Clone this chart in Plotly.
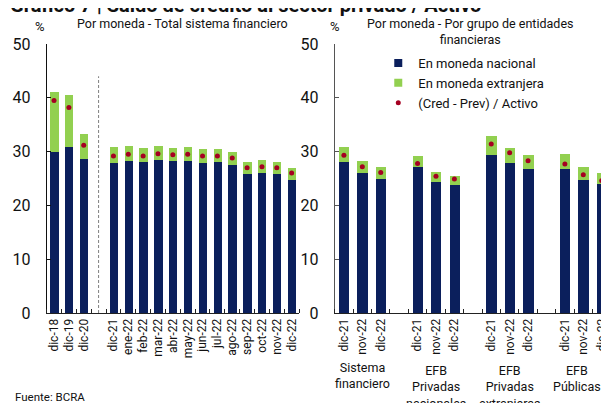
import plotly.graph_objects as go

# ---------------- data ----------------
# Left panel: Total sistema financiero
left_cats_hist = ["dic-18", "dic-19", "dic-20"]
left_cats_month = ["dic-21", "ene-22", "feb-22", "mar-22", "abr-22", "may-22", "jun-22",
                   "jul-22", "ago-22", "sep-22", "oct-22", "nov-22", "dic-22"]
left_nacional = [29.9, 30.9, 28.7, 27.9, 28.2, 28.0, 28.4, 28.2, 28.2, 27.9, 28.0,
                 27.5, 25.9, 26.1, 25.8, 24.8]
left_extranjera = [11.1, 9.7, 4.5, 2.9, 2.8, 2.7, 2.6, 2.5, 2.6, 2.6, 2.4, 2.4,
                   2.2, 2.3, 2.3, 2.2]
left_ratio = [39.5, 38.2, 31.2, 29.2, 29.5, 29.2, 29.6, 29.4, 29.5, 29.2, 29.2,
              28.8, 27.0, 27.2, 27.0, 26.0]

# Right panel: por grupo de entidades
right_groups = ["Sistema<br>financiero", "EFB<br>Privadas<br>nacionales",
                "EFB<br>Privadas<br>extranjeras", "EFB<br>Públicas"]
right_sub = ["dic-21", "nov-22", "dic-22"]
right_nacional = [28.0, 26.0, 25.0, 27.1, 24.3, 23.7, 29.4, 27.9, 26.7, 26.7, 24.8, 23.9]
right_extranjera = [2.9, 2.3, 2.2, 2.0, 1.9, 1.8, 3.5, 2.8, 2.7, 2.9, 2.3, 2.2]
right_ratio = [29.3, 27.2, 26.1, 27.8, 25.4, 24.9, 31.4, 29.8, 28.3, 27.7, 25.7, 24.6]

y_ticks = [0, 10, 20, 30, 40, 50]

# ---------------- styles ----------------
NAVY = "#0b1f5c"
GREEN = "#92d050"
RED = "#a50021"
FONT = "Roboto"
OFF = 8                      # page offset of the figure inside the browser page
PAGE_W, PAGE_H = 609, 403
W, H = PAGE_W - OFF, PAGE_H - OFF
PLOT_TOP, PLOT_BOT = 44, 313  # page pixels


def slot_positions(segments):
    pos, p = [], 0
    for seg in segments:
        for _ in seg:
            pos.append(p)
            p += 1
        p += 1  # empty slot between segments
    return pos


left_labels = left_cats_hist + left_cats_month
left_x = slot_positions([left_cats_hist, left_cats_month])
right_labels = right_sub * len(right_groups)
right_x = slot_positions([right_sub] * len(right_groups))


def px_x(p):
    return (p - OFF) / W


def px_y(p):
    return (PLOT_BOT - p) / (PLOT_BOT - PLOT_TOP)


fig = go.Figure()
BW = 0.56

fig.add_bar(x=left_x, y=left_nacional, marker_color=NAVY, width=BW, showlegend=False,
            xaxis="x", yaxis="y", marker_line_width=0)
fig.add_bar(x=left_x, y=left_extranjera, marker_color=GREEN, width=BW, showlegend=False,
            xaxis="x", yaxis="y", marker_line_width=0)
fig.add_scatter(x=left_x, y=left_ratio, mode="markers", marker=dict(color=RED, size=5),
                showlegend=False, xaxis="x", yaxis="y")

fig.add_bar(x=right_x, y=right_nacional, marker_color=NAVY, width=BW, showlegend=False,
            xaxis="x2", yaxis="y2", marker_line_width=0)
fig.add_bar(x=right_x, y=right_extranjera, marker_color=GREEN, width=BW, showlegend=False,
            xaxis="x2", yaxis="y2", marker_line_width=0)
fig.add_scatter(x=right_x, y=right_ratio, mode="markers", marker=dict(color=RED, size=5),
                showlegend=False, xaxis="x2", yaxis="y2")

# legend entries
fig.add_scatter(x=[None], y=[None], mode="markers", name="En moneda nacional",
                marker=dict(color=NAVY, size=8, symbol="square"), xaxis="x2", yaxis="y2")
fig.add_scatter(x=[None], y=[None], mode="markers", name="En moneda extranjera",
                marker=dict(color=GREEN, size=8, symbol="square"), xaxis="x2", yaxis="y2")
fig.add_scatter(x=[None], y=[None], mode="markers", name="(Cred - Prev) / Activo",
                marker=dict(color=RED, size=5), xaxis="x2", yaxis="y2")

xcommon = dict(
    tickmode="array", ticks="", tickangle=-90, showline=True, linecolor="#222222",
    linewidth=1, tickfont=dict(family=FONT, size=12, color="#111111"),
    showgrid=False, zeroline=False, ticklabeloverflow="allow",
    minor=dict(tick0=0.5, dtick=1, ticks="inside", ticklen=4, tickcolor="#222222",
               showgrid=False),
)
ycommon = dict(
    range=[0, 50], tickvals=y_ticks, ticks="inside", ticklen=4, showline=True,
    linewidth=1, showgrid=False, zeroline=False,
    tickfont=dict(family=FONT, size=16, color="#111111"), ticklabelstandoff=12,
)

fig.update_layout(
    width=W, height=H,
    margin=dict(l=0, r=0, t=PLOT_TOP - OFF, b=PAGE_H - PLOT_BOT, pad=0),
    paper_bgcolor="white", plot_bgcolor="white",
    barmode="stack", bargap=0,
    font=dict(family=FONT, color="#111111"),
    xaxis=dict(domain=[px_x(47), px_x(302)], range=[-0.5, 16.5],
               tickvals=left_x, ticktext=left_labels, **xcommon),
    yaxis=dict(anchor="x", linecolor="#111111", tickcolor="#111111", **ycommon),
    xaxis2=dict(domain=[px_x(338), 1.0], range=[-0.5, -0.5 + (PAGE_W - 338) / 18.6],
                tickvals=right_x, ticktext=right_labels, **xcommon),
    yaxis2=dict(anchor="x2", linecolor="#555555", tickcolor="#555555", **ycommon),
    legend=dict(x=px_x(382), y=px_y(48), xanchor="left", yanchor="top",
                traceorder="normal",
                font=dict(family=FONT, size=13, color="#111111"),
                bgcolor="rgba(0,0,0,0)", tracegroupgap=0, itemwidth=30),
)

# dashed separator in the left panel
fig.add_shape(type="line", xref="x", yref="y", x0=3, x1=3, y0=0, y1=44,
              line=dict(color="#7f7f7f", width=1, dash="3px,2px"))

ann = []
ann.append(dict(text="<b>Gráfico 7 | Saldo de crédito al sector privado / Activo</b>",
                x=px_x(8), y=px_y(5), xanchor="left", yanchor="middle",
                font=dict(size=20, family=FONT, color="#111111")))
ann.append(dict(text="%", x=px_x(40), y=px_y(26), xanchor="center", yanchor="middle",
                font=dict(size=13)))
ann.append(dict(text="%", x=px_x(338), y=px_y(26), xanchor="center", yanchor="middle",
                font=dict(size=13)))
ann.append(dict(text="Por moneda - Total sistema financiero", x=px_x(184.5), y=px_y(23),
                xanchor="center", yanchor="middle", font=dict(size=12.5)))
ann.append(dict(text="Por moneda - Por grupo de entidades<br>financieras", x=px_x(475),
                y=px_y(31.5), xanchor="center", yanchor="middle", font=dict(size=12.5)))
ann.append(dict(text="Fuente: BCRA", x=px_x(13), y=px_y(397), xanchor="left",
                yanchor="middle", font=dict(size=11.5)))
for gi, g in enumerate(right_groups):
    center = right_x[gi * 3 + 1]
    top = 358 if gi == 0 else 361
    ann.append(dict(text=g, xref="x2", x=center, y=px_y(top), xanchor="center",
                    yanchor="top", font=dict(size=12.5),
                    xshift=-6 if gi == 3 else 0))

for a in ann:
    a.setdefault("xref", "paper")
    a.setdefault("yref", "paper")
    a["showarrow"] = False
    a.setdefault("font", {})
    a["font"].setdefault("family", FONT)
    a["font"].setdefault("color", "#111111")
fig.update_layout(annotations=ann)

fig.write_html("out.html")
